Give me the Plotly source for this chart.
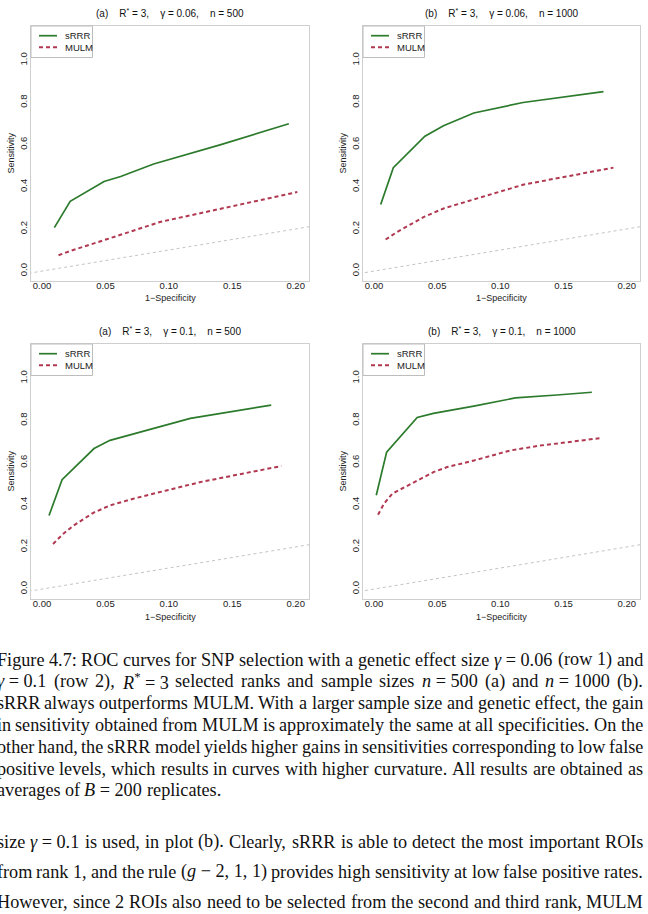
import plotly.graph_objects as go

# ---------------- data ----------------
p1_srrr_x = [0.0097, 0.0222, 0.0489, 0.0620, 0.0880, 0.1410, 0.1946]
p1_srrr_y = [0.206, 0.331, 0.425, 0.449, 0.508, 0.600, 0.699]
p1_mulm_x = [0.0130, 0.0220, 0.0510, 0.0930, 0.1410, 0.2013]
p1_mulm_y = [0.075, 0.095, 0.151, 0.233, 0.296, 0.375]

p2_srrr_x = [0.0053, 0.0153, 0.0403, 0.0550, 0.0790, 0.1180, 0.1816]
p2_srrr_y = [0.316, 0.491, 0.640, 0.690, 0.750, 0.800, 0.852]
p2_mulm_x = [0.0092, 0.0184, 0.0395, 0.0550, 0.0790, 0.1180, 0.1895]
p2_mulm_y = [0.150, 0.186, 0.257, 0.297, 0.340, 0.410, 0.491]

p3_srrr_x = [0.0055, 0.0158, 0.0410, 0.0536, 0.1169, 0.1807]
p3_srrr_y = [0.349, 0.519, 0.667, 0.706, 0.810, 0.873]
p3_mulm_x = [0.0087, 0.0166, 0.0245, 0.0404, 0.0536, 0.0720, 0.0980, 0.1250, 0.1887]
p3_mulm_y = [0.214, 0.262, 0.300, 0.362, 0.397, 0.429, 0.468, 0.508, 0.584]

p4_srrr_x = [0.0018, 0.0100, 0.0342, 0.0470, 0.0790, 0.1118, 0.1447, 0.1724]
p4_srrr_y = [0.445, 0.650, 0.814, 0.834, 0.868, 0.907, 0.921, 0.934]
p4_mulm_x = [0.0032, 0.0079, 0.0145, 0.0342, 0.0470, 0.0580, 0.0790, 0.1080, 0.1316, 0.1784]
p4_mulm_y = [0.353, 0.405, 0.453, 0.513, 0.555, 0.579, 0.610, 0.658, 0.681, 0.716]

diag = [-1.0, 1.0]

panel_titles = [
    ("(a)", "0.06", "500"),
    ("(b)", "0.06", "1000"),
    ("(a)", "0.1", "500"),
    ("(b)", "0.1", "1000"),
]
series_names = ["sRRR", "MULM"]
x_ticks = [0.00, 0.05, 0.10, 0.15, 0.20]
y_ticks = [0.0, 0.2, 0.4, 0.6, 0.8, 1.0]
x_label = "1\u2212Specificity"
y_label = "Sensitivity"

caption_par1 = [
    "Figure 4.7: ROC curves for SNP selection with a genetic effect size <i>γ</i>\u00a0=\u00a00.06 (row 1) and",
    "<i>γ</i>\u00a0=\u00a00.1 (row 2), <i>R</i><sup>*</sup>\u00a0=\u00a03 selected ranks and sample sizes <i>n</i>\u00a0=\u00a0500 (a) and <i>n</i>\u00a0=\u00a01000 (b).",
    "sRRR always outperforms MULM. With a larger sample size and genetic effect, the gain",
    "in sensitivity obtained from MULM is approximately the same at all specificities. On the",
    "other hand, the sRRR model yields higher gains in sensitivities corresponding to low false",
    "positive levels, which results in curves with higher curvature. All results are obtained as",
    "averages of <i>B</i>\u00a0=\u00a0200 replicates.",
]
caption_par2 = [
    "size <i>γ</i>\u00a0=\u00a00.1 is used, in plot (b). Clearly, sRRR is able to detect the most important ROIs",
    "from rank 1, and the rule (<i>g</i>\u00a0\u2212\u00a02,\u00a01,\u00a01) provides high sensitivity at low false positive rates.",
    "However, since 2 ROIs also need to be selected from the second and third rank, MULM",
]

# ---------------- layout geometry ----------------
W, H = 648, 914
GREEN = "#2c7a2c"
RED = "#b03850"
BOX = "#cfcfcf"
SANS = "Liberation Sans, Arial, sans-serif"
SERIF = "Liberation Serif, Times New Roman, serif"

boxes = [  # left, right, top, bottom in px
    (31.0, 309.0, 26.0, 281.0),
    (363.0, 640.0, 26.0, 281.0),
    (31.0, 309.0, 344.0, 599.0),
    (363.0, 640.0, 344.0, 599.0),
]
XR = [-0.0087, 0.2105]
YR = [-0.047, 1.163]

def px(x):
    return x / W

def py(y):
    return 1 - y / H

fig = go.Figure()
data = [
    (p1_srrr_x, p1_srrr_y, p1_mulm_x, p1_mulm_y),
    (p2_srrr_x, p2_srrr_y, p2_mulm_x, p2_mulm_y),
    (p3_srrr_x, p3_srrr_y, p3_mulm_x, p3_mulm_y),
    (p4_srrr_x, p4_srrr_y, p4_mulm_x, p4_mulm_y),
]
annotations = []
shapes = []
for i, (sx, sy, mx, my) in enumerate(data):
    k = "" if i == 0 else str(i + 1)
    xa, ya = "x" + k, "y" + k
    fig.add_trace(go.Scatter(x=diag, y=diag, mode="lines", xaxis=xa, yaxis=ya,
                             line=dict(color="#c4c4c4", width=1, dash="dot"),
                             showlegend=False, hoverinfo="skip"))
    fig.add_trace(go.Scatter(x=mx, y=my, mode="lines", xaxis=xa, yaxis=ya, name=series_names[1],
                             line=dict(color=RED, width=2, dash="4px,3px"), showlegend=False))
    fig.add_trace(go.Scatter(x=sx, y=sy, mode="lines", xaxis=xa, yaxis=ya, name=series_names[0],
                             line=dict(color=GREEN, width=1.7), showlegend=False))
    l, r, t, b = boxes[i]
    axcommon = dict(showgrid=False, zeroline=False, showline=True, mirror=True,
                    linecolor=BOX, linewidth=1, ticks="",
                    tickfont=dict(family=SANS, size=9.5, color="#222"))
    fig.layout["xaxis" + k] = dict(domain=[px(l), px(r)], range=XR, anchor=ya,
                                   tickvals=x_ticks, ticktext=[f"{v:.2f}" for v in x_ticks],
                                   ticklabelstandoff=-4, **axcommon)
    fig.layout["yaxis" + k] = dict(domain=[py(b), py(t)], range=YR, anchor=xa,
                                   tickvals=y_ticks, ticktext=[f"{v:.1f}" for v in y_ticks],
                                   tickangle=-90, ticklabelstandoff=-1, **axcommon)
    cx = (l + r) / 2
    lab, g, n = panel_titles[i]
    sp = "\u00a0" * 4
    title = f"{lab}{sp}R<sup>*</sup>\u00a0=\u00a03,{sp}γ\u00a0=\u00a0{g},{sp}n\u00a0=\u00a0{n}"
    annotations.append(dict(text=title, x=px(cx), y=py(t - 12.8), xref="paper", yref="paper",
                            xanchor="center", yanchor="middle", showarrow=False,
                            font=dict(family=SANS, size=10, color="#111")))
    annotations.append(dict(text=x_label, x=px(cx), y=py(b + 17.5), xref="paper", yref="paper",
                            xanchor="center", yanchor="middle", showarrow=False,
                            font=dict(family=SANS, size=9, color="#222")))
    annotations.append(dict(text=y_label, x=px(l - 21.0), y=py((t + b) / 2), xref="paper", yref="paper",
                            xanchor="center", yanchor="middle", showarrow=False, textangle=-90,
                            font=dict(family=SANS, size=9, color="#222")))
    # legend box
    shapes.append(dict(type="rect", xref="paper", yref="paper", x0=px(l), x1=px(l + 61.5),
                       y0=py(t + 31.5), y1=py(t), line=dict(color="#bdbdbd", width=1),
                       fillcolor="white", layer="above"))
    for j, (nm, col, dsh, wd) in enumerate([(series_names[0], GREEN, "solid", 1.7),
                                              (series_names[1], RED, "4px,3px", 2)]):
        yy = t + 9.7 + j * 11.6
        shapes.append(dict(type="line", xref="paper", yref="paper", x0=px(l + 8), x1=px(l + 26),
                           y0=py(yy), y1=py(yy), line=dict(color=col, width=wd, dash=dsh),
                           layer="above"))
        annotations.append(dict(text=nm, x=px(l + 31.5), y=py(yy), xref="paper", yref="paper",
                                xanchor="left", yanchor="middle", showarrow=False,
                                font=dict(family=SANS, size=9.5, color="#222")))

# ---------------- caption (justified, word by word) ----------------
ROMAN = {" ": 250, "\u00a0": 250, "(": 333, ")": 333, "*": 500, ",": 250, "-": 333, ".": 250,
         ":": 278, "=": 564, "\u2212": 564}
for c in "0123456789":
    ROMAN[c] = 500
ROMAN.update(dict(zip("ABCDEFGHIJKLMNOPQRSTUVWXYZ",
                      [722, 667, 667, 722, 611, 556, 722, 722, 333, 389, 722, 611, 889, 722, 722,
                       556, 722, 667, 556, 611, 722, 722, 944, 722, 722, 611])))
ROMAN.update(dict(zip("abcdefghijklmnopqrstuvwxyz",
                      [444, 500, 444, 500, 444, 333, 500, 500, 278, 278, 500, 278, 778, 500, 500,
                       500, 500, 333, 389, 278, 500, 500, 722, 500, 500, 444])))
ITALIC = {"B": 611, "R": 611, "n": 500, "g": 500, "γ": 440}

def tok_width(tok, size):
    w, ital, sup, i = 0.0, False, False, 0
    while i < len(tok):
        for tag, st in (("<i>", "i1"), ("</i>", "i0"), ("<sup>", "s1"), ("</sup>", "s0")):
            if tok.startswith(tag, i):
                i += len(tag)
                if st == "i1": ital = True
                elif st == "i0": ital = False
                elif st == "s1": sup = True
                else: sup = False
                break
        else:
            ch = tok[i]
            cw = (ITALIC.get(ch) if ital else None) or ROMAN.get(ch, 500)
            w += cw * (0.7 if sup else 1.0)
            i += 1
    return w * size / 1000.0

FS = 18.2
LEFT, RIGHT = -4.5, 642.0

def place_line(line, yc, justify):
    toks = line.split(" ")
    widths = [tok_width(t, FS) for t in toks]
    if justify and len(toks) > 1:
        gap = (RIGHT - LEFT - sum(widths)) / (len(toks) - 1)
    else:
        gap = 0.25 * FS
    x = LEFT
    for t, w in zip(toks, widths):
        annotations.append(dict(text=t, x=px(x), y=py(yc), xref="paper", yref="paper",
                                xanchor="left", yanchor="middle", showarrow=False, borderpad=0,
                                font=dict(family=SERIF, size=FS, color="#111")))
        x += w + gap

for k, line in enumerate(caption_par1):
    place_line(line, 659.5 + k * 21.8, justify=(k < len(caption_par1) - 1))
for k, line in enumerate(caption_par2):
    place_line(line, 841.5 + k * 30.0, justify=True)

fig.update_layout(width=W, height=H, margin=dict(l=0, r=0, t=0, b=0),
                  paper_bgcolor="white", plot_bgcolor="white",
                  annotations=annotations, shapes=shapes, showlegend=False)
fig.write_html("out.html")
